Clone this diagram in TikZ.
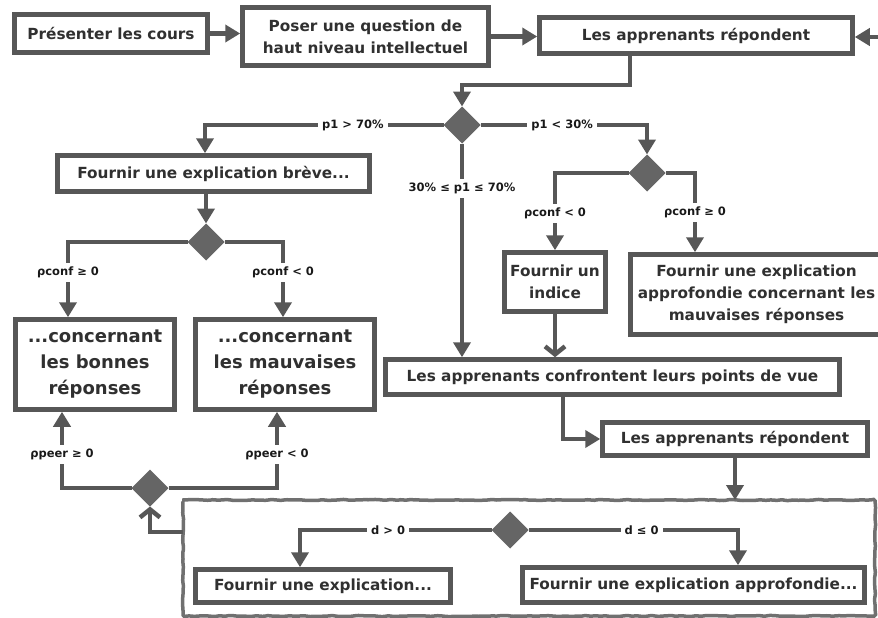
\documentclass[tikz,border=0pt]{standalone}
\usepackage{fontspec}
\setmainfont{DejaVu Sans}
\usepackage{tikz}
\usetikzlibrary{positioning}
\usetikzlibrary{arrows.meta,shapes}
\usetikzlibrary{shapes.geometric}
\usetikzlibrary{decorations.pathmorphing}
\definecolor{trait}{HTML}{575757}
\definecolor{losange}{HTML}{656565}
\definecolor{encre}{HTML}{303030}
\newcommand\troispts{...}
\tikzstyle{boite}=[rectangle,draw=trait,line width=4.5pt,fill=white,text=encre,align=center,inner sep=0pt,font=\bfseries\fontsize{15.3}{22}\selectfont]
\tikzstyle{grandeboite}=[boite,font=\bfseries\fontsize{18}{26}\selectfont]
\tikzstyle{choix}=[diamond,fill=losange,minimum width=37pt,minimum height=37pt,inner sep=0pt,outer sep=0pt]
\tikzstyle{fleche}=[draw=trait,line width=4.5pt,-{Triangle[length=15pt,width=17pt]}]
\tikzstyle{barbe}=[draw=trait,line width=4.5pt,-{Straight Barb[length=8pt,width=20pt]}]
\tikzstyle{etiq}=[fill=white,inner sep=4pt,text=black!90,font=\bfseries\fontsize{11.5}{13}\selectfont]
\tikzstyle{cadre}=[draw=trait!85,line width=3.5pt,decorate,decoration={random steps,segment length=4pt,amplitude=0.6pt},rounded corners=1.5pt]

\begin{document}
\begin{tikzpicture}[x=1pt,y=-1pt]
\pgfmathsetseed{42}
\useasboundingbox (0,0) rectangle (878,618);

    % Le cadre du bas
    \node[minimum width=692pt,minimum height=116pt,inner sep=0pt,outer sep=0pt] (cadre) at (529,558) {};
    \draw[cadre] (cadre.north west) rectangle (cadre.south east);

    % First we draw the boxes
    \foreach \pos/\name/\w/\h/\txt in {{(111,33.5)/pres/193/38/Présenter les cours}, {(365.5,36.5)/poser/246/58/{Poser une question de\\haut niveau intellectuel}}, {(696,35.5)/rep1/313/36/Les apprenants répondent}, {(213.5,173.5)/breve/312/36/{Fournir une explication brève\troispts}}, {(555,282)/indice/101/59/{Fournir un\\indice}}, {(756.5,294.5)/approf/252.5/80/{Fournir une explication\\approfondie concernant les\\mauvaises réponses}}, {(612.5,377)/confr/454/35/Les apprenants confrontent leurs points de vue}, {(735,439)/rep2/265/33/Les apprenants répondent}, {(323,586)/explic/255/33/{Fournir une explication\troispts}}, {(693.5,585)/approf2/342/35/{Fournir une explication approfondie\troispts}}}
        \node[boite,minimum width=\w pt,minimum height=\h pt] (\name) at \pos {\txt};

    \foreach \pos/\name/\w/\txt in {{(95,364.5)/bonnes/159/{\troispts concernant\\les bonnes\\réponses}}, {(285,364.5)/mauv/179/{\troispts concernant\\les mauvaises\\réponses}}}
        \node[grandeboite,minimum width=\w pt,minimum height=90pt] (\name) at \pos {\txt};

    % Then the decisions
    \foreach \pos/\name in {(462,125)/d1, (647,173)/d2, (206,242)/d3, (150,488)/d4, (510,530)/d5}
        \node[choix] (\name) at \pos {};

    % Connect the top boxes
    \draw[fleche] (pres.east) -- (pres.east -| poser.west);
    \draw[fleche] (poser.east) -- (poser.east -| rep1.west);
    \coordinate (retour) at (878,37);
    \draw[fleche] (retour) -- (retour -| rep1.east);
    \draw[fleche] ([xshift=-66pt]rep1.south) -- ++(0,29) -| (d1.north);

    % First decision
    \draw[fleche] (d1.west) -| node[etiq,pos=0.19] {p1 > 70\%} ([xshift=-8.5pt]breve.north);
    \draw[fleche] (d1.east) -| node[etiq,pos=0.245] {p1 < 30\%} (d2.north);
    \draw[fleche] (d1.south) -- node[etiq,pos=0.21] {30\% ≤ p1 ≤ 70\%} (d1.south |- confr.north);

    % p1 < 30%
    \draw[fleche] (d2.west) -| node[etiq,pos=0.76] {ρconf < 0} (indice.north);
    \draw[fleche] (d2.east) -| node[etiq,pos=0.75] {ρconf ≥ 0} ([xshift=-61.5pt]approf.north);
    \draw[barbe] (indice.south) -- (indice.south |- confr.north);

    % p1 > 70%
    \draw[fleche] (breve.south -| d3.north) -- (d3.north);
    \draw[fleche] (d3.west) -| node[etiq,pos=0.7] {ρconf ≥ 0} ([xshift=-27pt]bonnes.north);
    \draw[fleche] (d3.east) -| node[etiq,pos=0.7] {ρconf < 0} ([xshift=-2pt]mauv.north);

    % Back from the frame
    \draw[fleche] (d4.west) -| node[etiq,pos=0.72] {ρpeer ≥ 0} ([xshift=-33pt]bonnes.south);
    \draw[fleche] (d4.east) -| node[etiq,pos=0.72] {ρpeer < 0} ([xshift=-8pt]mauv.south);
    \draw[barbe] ([yshift=26pt]cadre.west) -| (d4.south);

    % Confrontation
    \draw[fleche] ([xshift=-49.5pt]confr.south) |- (rep2.west);
    \draw[fleche] (rep2.south) -- (rep2.south |- cadre.north);

    % Inside the frame
    \draw[fleche] (d5.west) -| node[etiq,pos=0.27] {d > 0} ([xshift=-23pt]explic.north);
    \draw[fleche] (d5.east) -| node[etiq,pos=0.27] {d ≤ 0} ([xshift=44.5pt]approf2.north);

\end{tikzpicture}
\end{document}
